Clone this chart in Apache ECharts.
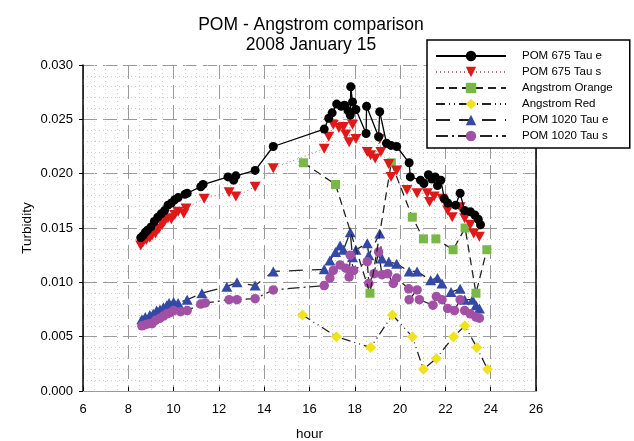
<!DOCTYPE html>
<html><head><meta charset="utf-8">
<script src="https://cdn.jsdelivr.net/npm/echarts@6/dist/echarts.min.js"></script>
<style>html,body{margin:0;padding:0;background:#fff}#c{width:634px;height:441px}</style>
</head><body><div id="c"></div>
<script>
// ---- data ----
const tauE675Hours = [8.55,8.65,8.75,8.85,9.0,9.15,9.3,9.45,9.6,9.75,9.9,10.05,10.2,10.5,10.6,11.2,11.3,12.4,12.65,12.75,13.6,14.4,16.65,16.85,17.0,17.2,17.4,17.55,17.7,17.8,17.82,17.9,18.05,18.5,18.52,19.05,19.1,19.4,19.6,19.85,20.4,20.45,20.9,21.05,21.25,21.4,21.55,21.65,21.8,21.95,22.1,22.45,22.65,22.85,23.1,23.3,23.45,23.55];
const tauE675Values = [0.0141,0.0143,0.0146,0.0148,0.0151,0.0156,0.0160,0.0163,0.0166,0.0171,0.0173,0.0176,0.0178,0.0181,0.0182,0.0188,0.0190,0.0197,0.0194,0.0198,0.0203,0.0225,0.0241,0.0251,0.0256,0.0264,0.0262,0.0263,0.0258,0.0254,0.0280,0.0266,0.0259,0.0237,0.0262,0.0234,0.0257,0.0228,0.0226,0.0225,0.0210,0.0197,0.0194,0.0191,0.0199,0.0195,0.0197,0.0189,0.0194,0.0177,0.0173,0.0171,0.0182,0.0166,0.0165,0.0162,0.0158,0.0153];

const tauS675Hours = [8.55,8.65,8.8,8.95,9.05,9.2,9.35,9.5,9.6,9.75,9.9,10.05,10.2,10.45,10.55,11.35,12.45,12.75,13.6,14.4,16.65,16.85,17.05,17.3,17.5,17.6,17.75,17.8,17.9,18.05,18.55,18.7,18.9,19.1,19.15,19.5,19.6,19.85,20.3,20.75,21.2,21.3,21.5,21.85,22.1,22.3,22.65,22.85,23.1,23.25,23.5];
const tauS675Values = [0.0134,0.0137,0.0139,0.0141,0.0143,0.0145,0.0149,0.0153,0.0156,0.0159,0.0158,0.0162,0.0165,0.0163,0.0168,0.0177,0.0183,0.0179,0.0188,0.0205,0.0223,0.0234,0.0245,0.0242,0.0243,0.0236,0.0229,0.0252,0.0245,0.0232,0.0220,0.0217,0.0214,0.0232,0.0220,0.0209,0.0197,0.0203,0.0185,0.0182,0.0182,0.0174,0.0179,0.0177,0.0166,0.0160,0.0169,0.0159,0.0153,0.0145,0.0142];

const orangeHours = [15.73,17.15,18.67,19.61,20.54,21.03,21.58,22.34,22.87,23.35,23.83];
const orangeValues = [0.021,0.019,0.009,0.021,0.016,0.014,0.014,0.013,0.015,0.009,0.013];

const redHours = [15.69,17.19,18.70,19.66,20.54,21.03,21.60,22.36,22.86,23.39,23.86];
const redValues = [0.007,0.005,0.004,0.007,0.005,0.002,0.003,0.005,0.006,0.004,0.002];

const tauE1020Hours = [8.6,8.75,8.95,9.1,9.25,9.4,9.55,9.7,9.8,10.0,10.2,10.6,11.25,12.35,12.8,13.6,14.4,16.65,16.9,17.15,17.35,17.5,17.8,17.9,18.05,18.55,18.62,19.1,19.2,19.5,19.85,20.4,20.75,21.35,21.65,21.85,22.25,22.65,22.85,23.2,23.35,23.5];
const tauE1020Values = [0.0066,0.0068,0.0070,0.0071,0.0074,0.0075,0.0077,0.0079,0.0081,0.0082,0.0081,0.0084,0.0090,0.0096,0.0100,0.0097,0.0110,0.0112,0.0120,0.0128,0.0134,0.0130,0.0146,0.0123,0.0130,0.0136,0.0125,0.0145,0.0122,0.0119,0.0117,0.0110,0.0110,0.0102,0.0104,0.0099,0.0091,0.0094,0.0084,0.0084,0.0079,0.0076];

const tauS1020Hours = [8.6,8.75,8.9,9.05,9.2,9.4,9.55,9.7,9.85,10.0,10.3,10.6,11.2,11.4,12.45,12.8,13.6,14.4,16.65,16.9,17.05,17.35,17.6,17.75,17.8,17.95,18.55,18.62,18.85,19.05,19.2,19.45,19.7,19.85,20.38,20.4,20.75,20.85,21.45,21.6,21.85,22.1,22.4,22.65,22.85,23.1,23.35,23.5];
const tauS1020Values = [0.0060,0.0061,0.0062,0.0062,0.0065,0.0067,0.0069,0.0071,0.0072,0.0074,0.0073,0.0074,0.0080,0.0081,0.0084,0.0084,0.0085,0.0093,0.0097,0.0104,0.0111,0.0116,0.0113,0.0105,0.0125,0.0111,0.0119,0.0099,0.0108,0.0128,0.0107,0.0108,0.0099,0.0104,0.0094,0.0084,0.0093,0.0084,0.0079,0.0087,0.0084,0.0076,0.0074,0.0084,0.0074,0.0071,0.0068,0.0067];

const seriesNames = ['POM 675 Tau e','POM 675 Tau s','Angstrom Orange','Angstrom Red','POM 1020 Tau e','POM 1020 Tau s'];
const xTicks = {min: 6, max: 26, step: 2};
const yTicks = {min: 0, max: 0.03, step: 0.005};

// ---- chart ----
const pair = (h, v) => h.map((x, i) => [x, v[i]]);
const FONT = 'Liberation Sans, Arial, sans-serif';
const chart = echarts.init(document.getElementById('c'), null, {renderer: 'canvas'});
const downTri = 'path://M0,0 L10,0 L5,9 Z';

chart.setOption({
  animation: false,
  textStyle: {fontFamily: FONT},
  title: {
    text: 'POM - Angstrom comparison\n2008 January 15',
    left: 306, top: 10, textAlign: 'center',
    textStyle: {fontFamily: FONT, fontSize: 17.5, fontWeight: 'normal', color: '#000', lineHeight: 20}
  },
  grid: {left: 83, right: 98, top: 65, bottom: 50, containLabel: false, outerBoundsMode: 'none'},
  legend: {
    orient: 'vertical', left: 427, top: 40,
    padding: [10, 17, 6, 8],
    itemWidth: 70, itemHeight: 13, itemGap: 4,
    backgroundColor: '#fff', borderColor: '#000', borderWidth: 1.5,
    textStyle: {fontFamily: FONT, fontSize: 11.5, color: '#000', padding: [0,0,0,11]},
    data: seriesNames
  },
  xAxis: {
    type: 'value', min: xTicks.min, max: xTicks.max, interval: xTicks.step,
    name: 'hour', nameLocation: 'middle', nameGap: 36, nameMoveOverlap: false,
    nameTextStyle: {fontFamily: FONT, fontSize: 13.5, color: '#000'},
    axisLine: {show: true, lineStyle: {color: '#999', width: 1}},
    axisTick: {show: true, inside: true, length: 4, lineStyle: {color: '#000'}},
    axisLabel: {fontFamily: FONT, fontSize: 13, color: '#000', margin: 12},
    splitLine: {show: true, lineStyle: {color: '#9a9a9a', type: [14, 6], width: 1}},
    minorTick: {show: false, splitNumber: 4},
    minorSplitLine: {show: true, lineStyle: {color: '#cdcdcd', type: [1, 3], width: 1}}
  },
  yAxis: [{
    type: 'value', min: yTicks.min, max: yTicks.max, interval: yTicks.step,
    name: 'Turbidity', nameLocation: 'middle', nameGap: 49, nameMoveOverlap: false,
    nameTextStyle: {fontFamily: FONT, fontSize: 13.5, color: '#000'},
    axisLine: {show: true, lineStyle: {color: '#000', width: 1.5}},
    axisTick: {show: true, inside: false, length: 4, lineStyle: {color: '#000'}},
    axisLabel: {fontFamily: FONT, fontSize: 13, color: '#000', margin: 10, formatter: v => v.toFixed(3)},
    splitLine: {show: true, lineStyle: {color: '#9a9a9a', type: [14, 6], width: 1}},
    minorTick: {show: false, splitNumber: 5},
    minorSplitLine: {show: true, lineStyle: {color: '#cdcdcd', type: [1, 3], width: 1}}
  }, {
    type: 'value', min: yTicks.min, max: yTicks.max, interval: yTicks.step, position: 'right',
    axisLine: {show: true, lineStyle: {color: '#000', width: 1.5}},
    axisTick: {show: false}, axisLabel: {show: false}, splitLine: {show: false}
  }],
  series: [
    {name: seriesNames[0], type: 'line', data: pair(tauE675Hours, tauE675Values),
     symbol: 'circle', symbolSize: 9, itemStyle: {color: '#000'},
     lineStyle: {color: '#000', width: 1.3, type: 'solid'}, z: 6},
    {name: seriesNames[1], type: 'line', data: pair(tauS675Hours, tauS675Values),
     symbol: downTri, symbolSize: [11, 10], itemStyle: {color: '#e01818'},
     lineStyle: {color: '#b07070', width: 1, type: [1, 3]}, z: 5},
    {name: seriesNames[2], type: 'line', data: pair(orangeHours, orangeValues),
     symbol: 'rect', symbolSize: 9, itemStyle: {color: '#78b846'},
     lineStyle: {color: '#222', width: 1.3, type: [8, 5]}, z: 4},
    {name: seriesNames[3], type: 'line', data: pair(redHours, redValues),
     symbol: 'diamond', symbolSize: 11, itemStyle: {color: '#f2e21e'},
     lineStyle: {color: '#222', width: 1.3, type: [9, 4, 1, 4, 1, 4]}, z: 4},
    {name: seriesNames[4], type: 'line', data: pair(tauE1020Hours, tauE1020Values),
     symbol: 'triangle', symbolSize: [11, 10], itemStyle: {color: '#3448a6'},
     lineStyle: {color: '#222', width: 1.3, type: [14, 9]}, z: 3},
    {name: seriesNames[5], type: 'line', data: pair(tauS1020Hours, tauS1020Values),
     symbol: 'circle', symbolSize: 9.5, itemStyle: {color: '#a24fa6'},
     lineStyle: {color: '#222', width: 1.3, type: [12, 4, 2, 4]}, z: 3}
  ]
});
</script></body></html>
